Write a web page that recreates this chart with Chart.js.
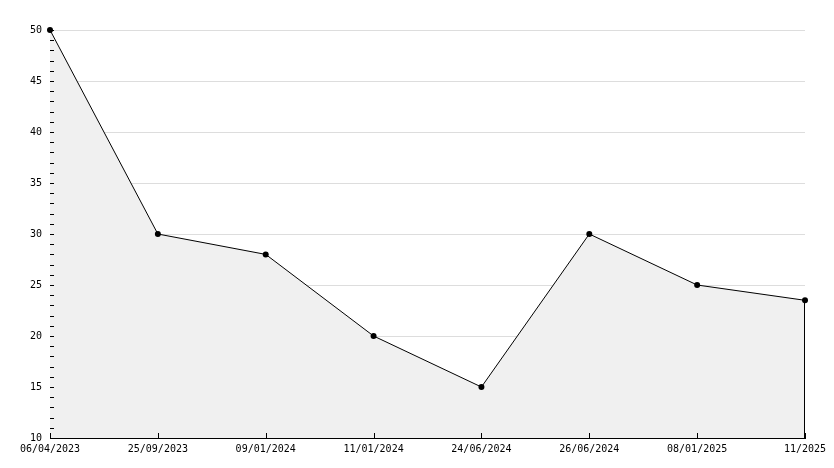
<!DOCTYPE html>
<html>
<head>
<meta charset="utf-8">
<script src="https://cdn.jsdelivr.net/npm/chart.js@4/dist/chart.umd.min.js"></script>
<style>
html,body{margin:0;padding:0;background:#fff;}
canvas{display:block;}
</style>
</head>
<body>
<canvas id="c" width="834" height="468"></canvas>
<script>
const categories = ["06/04/2023","25/09/2023","09/01/2024","11/01/2024","24/06/2024","26/06/2024","08/01/2025","11/2025"];
const values = [50, 30, 28, 20, 15, 30, 25, 23.5];
const yMin = 10, yMax = 50, yStep = 5, yMinorStep = 1;

const FONT = {family: "'DejaVu Sans Mono', monospace", size: 10};

const decor = {
  id: 'decor',
  afterDatasetsDraw(chart) {
    const ctx = chart.ctx;
    const xs = chart.scales.x, ys = chart.scales.y;
    const area = chart.chartArea;
    ctx.save();
    ctx.strokeStyle = '#000';
    ctx.lineWidth = 1;
    ctx.beginPath();
    for (let v = yMin; v <= yMax; v += yMinorStep) {
      const y = Math.round(ys.getPixelForValue(v)) + 0.5;
      ctx.moveTo(area.left, y);
      ctx.lineTo(area.left + 4, y);
    }
    categories.forEach((c, i) => {
      const x = Math.round(xs.getPixelForValue(i)) + 0.5;
      ctx.moveTo(x, area.bottom);
      ctx.lineTo(x, area.bottom - 5);
    });
    const meta = chart.getDatasetMeta(0);
    const last = meta.data[meta.data.length - 1];
    const lx = Math.round(last.x) - 0.5;
    ctx.moveTo(lx, last.y);
    ctx.lineTo(lx, area.bottom);
    ctx.stroke();
    ctx.restore();
  }
};

new Chart(document.getElementById('c'), {
  type: 'line',
  data: {
    labels: categories,
    datasets: [{
      data: values,
      borderColor: '#000',
      borderWidth: 1,
      backgroundColor: '#f0f0f0',
      fill: 'start',
      tension: 0,
      pointRadius: 3,
      pointBackgroundColor: '#000',
      pointBorderColor: '#000',
      pointBorderWidth: 0,
      clip: false
    }]
  },
  options: {
    responsive: false,
    animation: false,
    devicePixelRatio: 1,
    layout: {padding: {top: 30, right: 29, left: 0, bottom: 0}},
    plugins: {legend: {display: false}, tooltip: {enabled: false}},
    scales: {
      x: {
        type: 'category',
        offset: false,
        grid: {display: true, drawOnChartArea: false, drawTicks: false},
        border: {display: true, color: '#000', width: 1},
        ticks: {font: FONT, color: '#000', maxRotation: 0, autoSkip: false, padding: 5},
        afterFit(s) { s.height = 30; }
      },
      y: {
        min: yMin, max: yMax,
        grid: {color: '#dddddd', lineWidth: 1, drawTicks: false},
        border: {display: true, color: '#000', width: 1},
        ticks: {stepSize: yStep, font: FONT, color: '#000', padding: 8},
        afterFit(s) { s.width = 50; }
      }
    }
  },
  plugins: [decor]
});
</script>
</body>
</html>
